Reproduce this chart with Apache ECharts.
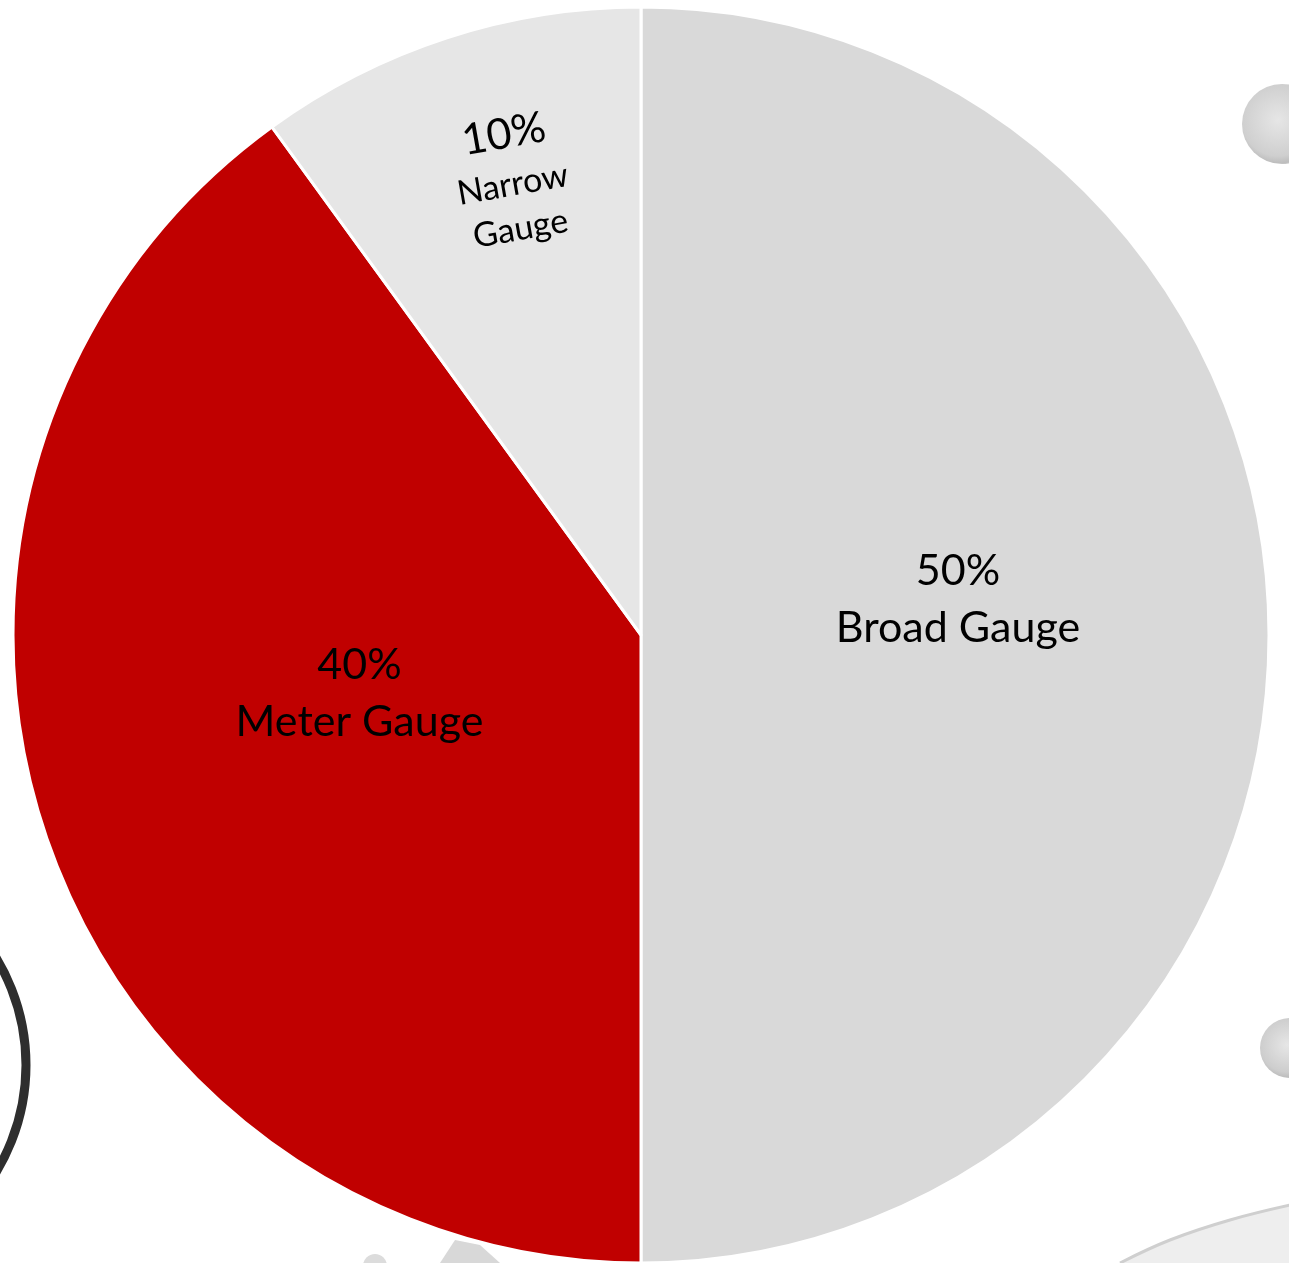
<!DOCTYPE html>
<html>
<head>
<meta charset="utf-8">
<script src="https://cdn.jsdelivr.net/npm/echarts@6/dist/echarts.min.js"></script>
<style>
html,body{margin:0;padding:0;background:#fff;}
#chart{width:1289px;height:1263px;}
</style>
</head>
<body>
<div id="chart"></div>
<script>
const categories = ['Broad Gauge', 'Meter Gauge', 'Narrow Gauge'];
const shares = [50, 40, 10];
const labelLines = ['Broad Gauge', 'Meter Gauge', 'Narrow\nGauge'];
const sliceColors = ['#d9d9d9', '#c00000', '#e6e6e6'];

const chart = echarts.init(document.getElementById('chart'), null, {renderer: 'canvas'});

const labelTweaks = [
  {dx: 0, dy: -35, rotate: 0},
  {dx: 20, dy: -39, rotate: 0},
  {dx: -4, dy: -158, rotate: 10}
];

const data = categories.map((name, i) => ({
  name: name,
  value: shares[i],
  itemStyle: {color: sliceColors[i]},
  label: {
    rotate: labelTweaks[i].rotate,
    formatter: i === 2
      ? '{big|' + shares[i] + '%}\n{small|Narrow}\n{small|Gauge}'
      : '{big|' + shares[i] + '%}\n{big|' + labelLines[i] + '}'
  }
}));

chart.setOption({
  backgroundColor: '#ffffff',
  animation: false,
  graphic: [
    {type: 'circle', z: -10, shape: {cx: -181, cy: 1065, r: 207},
     style: {fill: 'none', stroke: '#2e2e2e', lineWidth: 9}},
    {type: 'circle', z: -10, shape: {cx: 1282, cy: 124, r: 40},
     style: {fill: {type: 'radial', x: 0.45, y: 0.45, r: 0.6,
       colorStops: [{offset: 0, color: '#e6e6e6'}, {offset: 0.75, color: '#cfcfcf'}, {offset: 0.9, color: '#bdbdbd'}, {offset: 1, color: '#f2f2f2'}]}}},
    {type: 'circle', z: -10, shape: {cx: 1290, cy: 1048, r: 30},
     style: {fill: {type: 'radial', x: 0.45, y: 0.45, r: 0.6,
       colorStops: [{offset: 0, color: '#e6e6e6'}, {offset: 0.75, color: '#cdcdcd'}, {offset: 0.9, color: '#bdbdbd'}, {offset: 1, color: '#f4f4f4'}]}}},
    {type: 'polygon', z: -10, shape: {points: [[1120, 1263], [1170, 1240], [1230, 1220], [1289, 1205], [1295, 1263]]},
     style: {fill: '#eeeeee'}},
    {type: 'polyline', z: -9, shape: {points: [[1120, 1263], [1170, 1240], [1230, 1220], [1295, 1204]], smooth: 0.4},
     style: {stroke: '#cfcfcf', lineWidth: 3, fill: 'none'}},
    {type: 'polygon', z: -10, shape: {points: [[440, 1263], [455, 1240], [480, 1245], [500, 1263]]},
     style: {fill: '#d8d8d8'}},
    {type: 'circle', z: -10, shape: {cx: 375, cy: 1266, r: 12},
     style: {fill: '#dcdcdc'}}
  ],
  series: [{
    type: 'pie',
    center: [641, 635],
    radius: 628,
    startAngle: 90,
    clockwise: true,
    avoidLabelOverlap: false,
    itemStyle: {borderColor: '#ffffff', borderWidth: 3},
    label: {
      show: true,
      position: 'inside',
      color: '#000000',
      fontFamily: 'Lato',
      rich: {
        big: {fontSize: 43, lineHeight: 57, fontFamily: 'Lato', color: '#000'},
        small: {fontSize: 34, lineHeight: 45, fontFamily: 'Lato', color: '#000'}
      }
    },
    labelLine: {show: false},
    labelLayout: function (params) {
      const t = labelTweaks[params.dataIndex];
      return {dx: t.dx, dy: t.dy};
    },
    emphasis: {disabled: true},
    data: data
  }]
});
</script>
</body>
</html>
